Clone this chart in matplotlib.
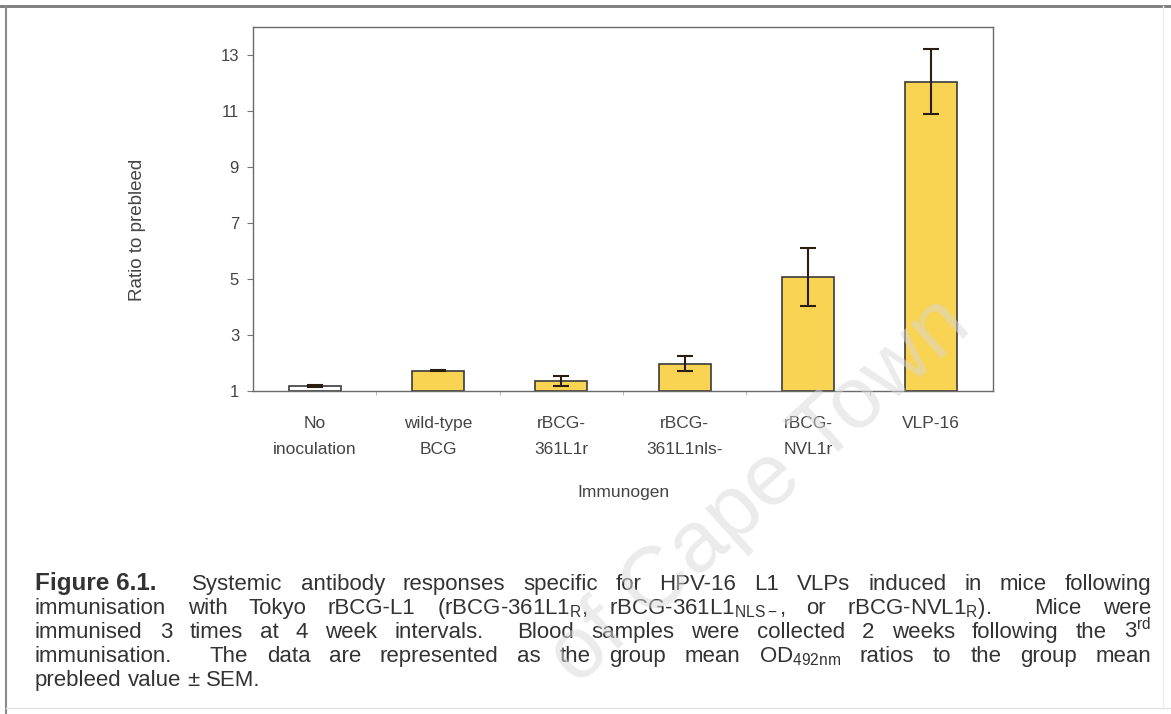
import matplotlib
matplotlib.use("Agg")
import matplotlib.pyplot as plt
from matplotlib.lines import Line2D
import numpy as np

# ---- data ----
categories = ["No\ninoculation", "wild-type\nBCG", "rBCG-\n361L1r", "rBCG-\n361L1nls-", "rBCG-\nNVL1r", "VLP-16"]
means = [1.18, 1.73, 1.35, 1.98, 5.07, 12.05]
sems = [0.04, 0.03, 0.17, 0.26, 1.05, 1.16]
yticks = [1, 3, 5, 7, 9, 11, 13]
ylabel = "Ratio to prebleed"
xlabel = "Immunogen"

caption_lines = [
    [("Figure 6.1.", "bold", 0), ("Systemic", "normal", 2), ("antibody", "normal", 1), ("responses", "normal", 1),
     ("specific", "normal", 1), ("for", "normal", 1), ("HPV-16", "normal", 1), ("L1", "normal", 1),
     ("VLPs", "normal", 1), ("induced", "normal", 1), ("in", "normal", 1), ("mice", "normal", 1),
     ("following", "normal", 1)],
    [("immunisation", "normal", 0), ("with", "normal", 1), ("Tokyo", "normal", 1), ("rBCG-L1", "normal", 1),
     (r"(rBCG-361L1$_{\mathrm{R}}$,", "normal", 1), (r"rBCG-361L1$_{\mathrm{NLS-}}$,", "normal", 1),
     ("or", "normal", 1), (r"rBCG-NVL1$_{\mathrm{R}}$).", "normal", 1), ("Mice", "normal", 2), ("were", "normal", 1)],
    [("immunised", "normal", 0), ("3", "normal", 1), ("times", "normal", 1), ("at", "normal", 1), ("4", "normal", 1),
     ("week", "normal", 1), ("intervals.", "normal", 1), ("Blood", "normal", 2), ("samples", "normal", 1),
     ("were", "normal", 1), ("collected", "normal", 1), ("2", "normal", 1), ("weeks", "normal", 1),
     ("following", "normal", 1), ("the", "normal", 1), (r"3$^{\mathrm{rd}}$", "normal", 1)],
    [("immunisation.", "normal", 0), ("The", "normal", 2), ("data", "normal", 1), ("are", "normal", 1),
     ("represented", "normal", 1), ("as", "normal", 1), ("the", "normal", 1), ("group", "normal", 1),
     ("mean", "normal", 1), (r"OD$_{\mathrm{492nm}}$", "normal", 1), ("ratios", "normal", 1), ("to", "normal", 1),
     ("the", "normal", 1), ("group", "normal", 1), ("mean", "normal", 1)],
    [("prebleed", "normal", 0), ("value", "normal", 1), ("\u00b1", "normal", 1), ("SEM.", "normal", 1)],
]
watermark = "of Cape Town"

# ---- style ----
plt.rcParams["font.family"] = ["Liberation Sans", "DejaVu Sans"]
plt.rcParams["mathtext.fontset"] = "custom"
plt.rcParams["mathtext.rm"] = "Liberation Sans"
plt.rcParams["mathtext.it"] = "Liberation Sans:italic"
plt.rcParams["mathtext.bf"] = "Liberation Sans:bold"

W, H = 1171, 714
fig = plt.figure(figsize=(W / 100, H / 100), dpi=100)
fig.patch.set_facecolor("white")

def fx(px):
    return px / W

def fy(py):
    return 1 - py / H

ax = fig.add_axes([fx(253), fy(391), fx(993) - fx(253), fy(27) - fy(391)])
x = np.arange(len(categories))
heights = np.array(means) - 1
face = ["white"] + ["#F9D352"] * (len(categories) - 1)
ax.bar(x, heights, bottom=1, width=0.42, color=face, edgecolor="#3b3b3b", linewidth=1.2, zorder=2)
ax.errorbar(x, means, yerr=sems, fmt="none", ecolor="#2b1d10", elinewidth=1.5,
            capsize=5.5, capthick=1.5, zorder=3)

ax.set_xlim(-0.5, len(categories) - 0.5)
ax.set_ylim(1, 14)
ax.set_yticks(yticks)
ax.set_yticklabels([str(v) for v in yticks])
ax.set_xticks(x)
ax.set_xticklabels(categories, linespacing=1.95)
ax.set_xticks(np.arange(0.5, len(categories) - 0.5, 1), minor=True)
ax.tick_params(axis="y", which="major", direction="out", length=4, width=0.8, color="#777777",
               labelsize=12, labelcolor="#444444", pad=6)
ax.tick_params(axis="x", which="major", length=0, labelsize=12.5, labelcolor="#444444", pad=18)
ax.tick_params(axis="x", which="minor", direction="out", length=3, width=0.8, color="#bbbbbb")
for sp in ax.spines.values():
    sp.set_color("#6a6a6a")
    sp.set_linewidth(1.0)

fig.text(fx(138), fy(230), ylabel, rotation=90, ha="center", va="center", fontsize=13.5, color="#444444")
fig.text(fx(623), fy(492), xlabel, ha="center", va="center", fontsize=12.5, color="#444444")

# ---- caption, justified ----
renderer = fig.canvas.get_renderer()
left_px, right_px = 35, 1151
row_base = [590, 614, 638, 662, 686]
for li, (tokens, ypx) in enumerate(zip(caption_lines, row_base)):
    texts = [fig.text(0, fy(ypx), s, fontsize=(17.5 if fw == "bold" else 16), fontweight=fw,
                      ha="left", va="baseline", color="#333333")
             for s, fw, g in tokens]
    widths = [t.get_window_extent(renderer).width for t in texts]
    weights = [g for s, fw, g in tokens]
    last = li == len(caption_lines) - 1
    if last:
        unit = 0.28 * 16 * 100 / 72
    else:
        unit = (right_px - left_px - sum(widths)) / max(sum(weights), 1)
    cur = left_px
    for t, w, g in zip(texts, widths, weights):
        cur += g * unit
        t.set_x(fx(cur))
        cur += w

# ---- outer frame ----
fig.add_artist(Line2D([0, 1], [fy(6), fy(6)], transform=fig.transFigure, color="#7a7a7a", lw=2.0))
fig.add_artist(Line2D([fx(6), fx(6)], [fy(6), 0], transform=fig.transFigure, color="#8a8a8a", lw=1.5))
fig.add_artist(Line2D([fx(6), 1], [fy(708), fy(708)], transform=fig.transFigure, color="#e2e2e2", lw=1.0))
fig.add_artist(Line2D([fx(1163), fx(1163)], [fy(6), fy(708)], transform=fig.transFigure, color="#eeeeee", lw=1.0))

# ---- watermark ----
fig.text(fx(973), fy(330), watermark, rotation=42, rotation_mode="anchor", ha="right", va="baseline",
         fontsize=63, color="#d8d8d8", alpha=0.5, zorder=10)

fig.savefig("out.png", dpi=100)
